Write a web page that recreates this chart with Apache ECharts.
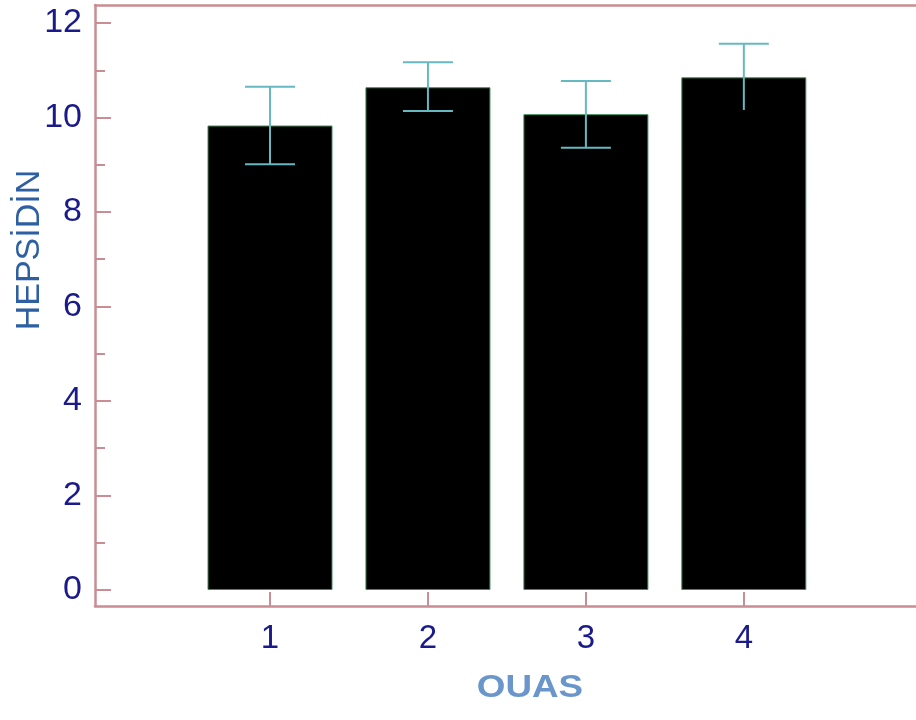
<!DOCTYPE html>
<html>
<head>
<meta charset="utf-8">
<script src="https://cdn.jsdelivr.net/npm/echarts@6/dist/echarts.min.js"></script>
<style>
  html, body { margin: 0; padding: 0; background: #fff; }
  #chart { width: 916px; height: 720px; }
</style>
</head>
<body>
<div id="chart"></div>
<script>
const categories = [1, 2, 3, 4];
const means = [9.83, 10.64, 10.07, 10.85];
const upper = [10.65, 11.17, 10.77, 11.56];
const lower = [9.01, 10.14, 9.36, 10.16];
const lowerCap = [true, true, true, false];
const yTicks = [0, 2, 4, 6, 8, 10, 12];
const yMinorTicks = [1, 3, 5, 7, 9, 11];

const AXIS = '#c98d93';
const LABEL = '#1a1a8a';
const FONT = "'Liberation Sans', Arial, sans-serif";

const X_MIN = -0.108, X_MAX = 5.09;
const Y_MIN = -0.339, Y_MAX = 12.381;

const chart = echarts.init(document.getElementById('chart'), null, { renderer: 'canvas' });

const errData = categories.map((c, i) => [c, lower[i], upper[i], lowerCap[i] ? 1 : 0]);

const option = {
  backgroundColor: '#fff',
  animation: false,
  grid: { left: 95, right: 0, top: 5, bottom: 114 },
  xAxis: [
    {
      type: 'value', min: X_MIN, max: X_MAX, position: 'bottom',
      axisLine: { show: true, onZero: false, lineStyle: { color: AXIS, width: 2.5 } },
      axisTick: { show: true, inside: true, length: 14, customValues: categories, lineStyle: { color: AXIS, width: 2 } },
      axisLabel: { customValues: categories, color: LABEL, fontSize: 33, fontFamily: FONT, margin: 16 },
      splitLine: { show: false }
    },
    {
      type: 'value', min: X_MIN, max: X_MAX, position: 'top',
      axisLine: { show: true, onZero: false, lineStyle: { color: AXIS, width: 2.5 } },
      axisTick: { show: false }, axisLabel: { show: false }, splitLine: { show: false }
    }
  ],
  yAxis: [
    {
      type: 'value', min: Y_MIN, max: Y_MAX, position: 'left',
      axisLine: { show: true, onZero: false, lineStyle: { color: AXIS, width: 2.5 } },
      axisTick: { show: true, inside: true, length: 16, customValues: yTicks, lineStyle: { color: AXIS, width: 2 } },
      axisLabel: { customValues: yTicks, color: LABEL, fontSize: 34, fontFamily: FONT, margin: 13 },
      splitLine: { show: false }
    },
    {
      type: 'value', min: Y_MIN, max: Y_MAX, position: 'left',
      axisLine: { show: false, onZero: false },
      axisTick: { show: true, inside: true, length: 10, customValues: yMinorTicks, lineStyle: { color: AXIS, width: 2 } },
      axisLabel: { show: false },
      splitLine: { show: false }
    }
  ],
  graphic: [
    {
      type: 'text', x: 30, y: 250, rotation: Math.PI / 2,
      style: { text: 'HEPSİDİN', fill: '#2d60a2', font: "34px " + FONT, align: 'center', verticalAlign: 'middle' }
    },
    {
      type: 'text', x: 530, y: 688, scaleX: 1.15,
      style: { text: 'OUAS', fill: '#6a96cc', font: "bold 32px " + FONT, align: 'center', verticalAlign: 'middle' }
    }
  ],
  series: [
    {
      type: 'bar',
      xAxisIndex: 0, yAxisIndex: 0,
      barWidth: 125,
      data: categories.map((c, i) => [c, means[i]]),
      itemStyle: { color: '#000', borderColor: '#3d8c5c', borderWidth: 1 }
    },
    {
      type: 'custom',
      xAxisIndex: 0, yAxisIndex: 0,
      z: 5,
      data: errData,
      renderItem: function (params, api) {
        const x = api.value(0);
        const lo = api.coord([x, api.value(1)]);
        const hi = api.coord([x, api.value(2)]);
        const half = 25;
        const style = { stroke: '#66b9c1', lineWidth: 2 };
        const children = [
          { type: 'line', shape: { x1: hi[0], y1: hi[1], x2: lo[0], y2: lo[1] }, style: style },
          { type: 'line', shape: { x1: hi[0] - half, y1: hi[1], x2: hi[0] + half, y2: hi[1] }, style: style }
        ];
        if (api.value(3)) {
          children.push({ type: 'line', shape: { x1: lo[0] - half, y1: lo[1], x2: lo[0] + half, y2: lo[1] }, style: style });
        }
        return { type: 'group', children: children };
      }
    }
  ]
};

chart.setOption(option);
</script>
</body>
</html>
